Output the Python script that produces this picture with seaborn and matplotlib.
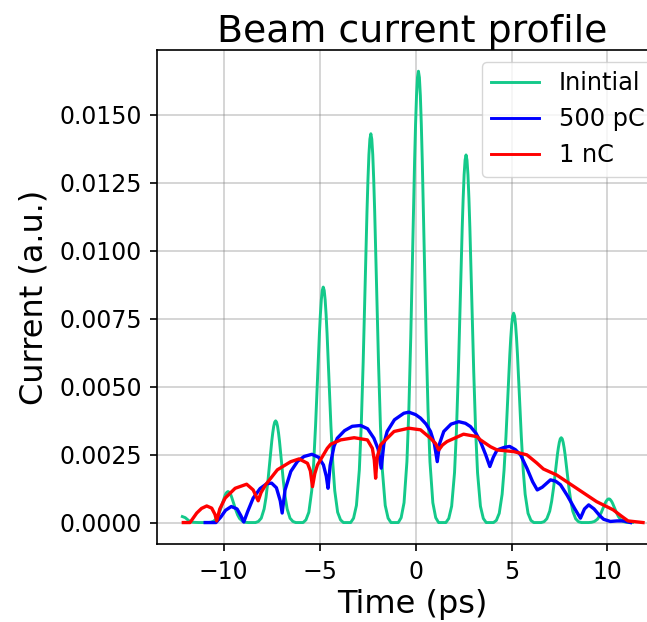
import numpy as np
import pandas as pd
import matplotlib
matplotlib.use("Agg")
import matplotlib.pyplot as plt
import seaborn as sns

# Initial profile (ps / a.u.)
green_t = [-12.15, -12.0, -11.8, -11.6, -11.3,
           -10.82, -10.67, -10.52, -10.37, -10.27, -10.17, -10.07, -9.97, -9.92, -9.87, -9.82, -9.77,
           -9.72, -9.67, -9.62, -9.57, -9.47, -9.37, -9.27, -9.17, -9.02, -8.87, -8.72,
           -8.34, -8.19, -8.04, -7.89, -7.79, -7.69, -7.59, -7.49, -7.44, -7.39, -7.34, -7.29,
           -7.24, -7.19, -7.14, -7.09, -6.99, -6.89, -6.79, -6.69, -6.54, -6.39, -6.24,
           -5.86, -5.71, -5.56, -5.41, -5.31, -5.21, -5.11, -5.01, -4.96, -4.91, -4.86, -4.81,
           -4.76, -4.71, -4.66, -4.61, -4.51, -4.41, -4.31, -4.21, -4.06, -3.91, -3.76,
           -3.38, -3.23, -3.08, -2.93, -2.83, -2.73, -2.63, -2.53, -2.48, -2.43, -2.38, -2.33,
           -2.28, -2.23, -2.18, -2.13, -2.03, -1.93, -1.83, -1.73, -1.58, -1.43, -1.28,
           -0.90, -0.75, -0.60, -0.45, -0.35, -0.25, -0.15, -0.05, 0.00, 0.05, 0.10, 0.15,
           0.20, 0.25, 0.30, 0.35, 0.45, 0.55, 0.65, 0.75, 0.90, 1.05, 1.20,
           1.58, 1.73, 1.88, 2.03, 2.13, 2.23, 2.33, 2.43, 2.48, 2.53, 2.58, 2.63,
           2.68, 2.73, 2.78, 2.83, 2.93, 3.03, 3.13, 3.23, 3.38, 3.53, 3.68,
           4.06, 4.21, 4.36, 4.51, 4.61, 4.71, 4.81, 4.91, 4.96, 5.01, 5.06, 5.11,
           5.16, 5.21, 5.26, 5.31, 5.41, 5.51, 5.61, 5.71, 5.86, 6.01, 6.16,
           6.54, 6.69, 6.84, 6.99, 7.09, 7.19, 7.29, 7.39, 7.44, 7.49, 7.54, 7.59,
           7.64, 7.69, 7.74, 7.79, 7.89, 7.99, 8.09, 8.19, 8.34, 8.49, 8.64,
           9.02, 9.17, 9.32, 9.47, 9.57, 9.67, 9.77, 9.87, 9.92, 9.97, 10.02, 10.07,
           10.12, 10.17, 10.22, 10.27, 10.37, 10.47, 10.57, 10.67, 10.82, 10.97, 11.12,
           11.3]
green_i = [0.00022, 0.00018, 0.00006, 0.00001, 0,
           0, 0.00001, 0.00005, 0.00015, 0.00028, 0.00047, 0.00069, 0.00091, 0.00101, 0.00108, 0.00112, 0.00114,
           0.00112, 0.00108, 0.00101, 0.00091, 0.00069, 0.00047, 0.00028, 0.00015, 0.00005, 0.00001, 0,
           0, 0.00004, 0.00016, 0.0005, 0.00093, 0.00154, 0.00227, 0.003, 0.0033, 0.00354, 0.00369, 0.00374,
           0.00369, 0.00354, 0.0033, 0.003, 0.00227, 0.00154, 0.00093, 0.0005, 0.00016, 0.00004, 0,
           0, 0.0001, 0.00038, 0.00117, 0.00216, 0.00356, 0.00526, 0.00694, 0.00764, 0.00819, 0.00854, 0.00866,
           0.00854, 0.00819, 0.00764, 0.00694, 0.00526, 0.00356, 0.00216, 0.00117, 0.00038, 0.0001, 0,
           0, 0.00016, 0.00063, 0.00193, 0.00356, 0.00588, 0.00868, 0.01145, 0.01261, 0.01353, 0.0141, 0.0143,
           0.0141, 0.01353, 0.01261, 0.01145, 0.00868, 0.00588, 0.00356, 0.00193, 0.00063, 0.00016, 0,
           0, 0.00018, 0.00073, 0.00224, 0.00413, 0.00682, 0.01008, 0.0133, 0.01464, 0.0157, 0.01637, 0.0166,
           0.01637, 0.0157, 0.01464, 0.0133, 0.01008, 0.00682, 0.00413, 0.00224, 0.00073, 0.00018, 0,
           0, 0.00015, 0.0006, 0.00183, 0.00337, 0.00556, 0.00821, 0.01083, 0.01192, 0.01279, 0.01333, 0.01352,
           0.01333, 0.01279, 0.01192, 0.01083, 0.00821, 0.00556, 0.00337, 0.00183, 0.0006, 0.00015, 0,
           0, 0.00008, 0.00034, 0.00104, 0.00192, 0.00316, 0.00467, 0.00617, 0.00679, 0.00728, 0.00759, 0.0077,
           0.00759, 0.00728, 0.00679, 0.00617, 0.00467, 0.00316, 0.00192, 0.00104, 0.00034, 0.00008, 0,
           0, 0.00003, 0.00014, 0.00042, 0.00078, 0.00128, 0.00189, 0.0025, 0.00275, 0.00295, 0.00308, 0.00312,
           0.00308, 0.00295, 0.00275, 0.0025, 0.00189, 0.00128, 0.00078, 0.00042, 0.00014, 0.00003, 0,
           0, 0.00001, 0.00004, 0.00012, 0.00022, 0.00036, 0.00053, 0.0007, 0.00077, 0.00082, 0.00086, 0.00087,
           0.00086, 0.00082, 0.00077, 0.0007, 0.00053, 0.00036, 0.00022, 0.00012, 0.00004, 0.00001, 0,
           0]

# 500 pC
blue_t = [-10.96, -10.4, -10.15, -9.9, -9.6, -9.3, -9.1, -8.95, -8.75, -8.46, -8.1, -7.75, -7.5, -7.25,
          -7.05, -6.95, -6.8, -6.5, -6.15, -5.81, -5.4, -5.05, -4.8, -4.65, -4.56, -4.45, -4.25, -4.08,
          -3.7, -3.3, -2.86, -2.5, -2.17, -1.95, -1.79, -1.65, -1.48, -1.1, -0.61, -0.35, 0.0, 0.26,
          0.55, 0.78, 0.98, 1.13, 1.25, 1.47, 1.85, 2.25, 2.6, 2.86, 3.15, 3.38, 3.65, 3.87, 4.05,
          4.25, 4.6, 4.9, 5.2, 5.47, 5.8, 6.1, 6.34, 6.6, 7.03, 7.3, 7.55, 7.9, 8.3, 8.59, 8.8,
          9.02, 9.3, 9.6, 9.8, 10.15, 10.5, 10.84, 11.2]
blue_i = [0, 0, 0.0002, 0.00045, 0.00059, 0.0005, 0.00025, 0.00002, 0.0004, 0.0009, 0.00125, 0.00143, 0.00145, 0.00128,
          0.0008, 0.00035, 0.0012, 0.00188, 0.00225, 0.00243, 0.00251, 0.0024, 0.00212, 0.0017, 0.00126, 0.0021, 0.0028, 0.0031,
          0.00338, 0.00354, 0.00357, 0.00345, 0.0031, 0.0027, 0.002, 0.0029, 0.00335, 0.00378, 0.00402, 0.00406, 0.00397, 0.00384,
          0.00362, 0.00335, 0.0029, 0.00224, 0.0029, 0.00335, 0.00362, 0.00371, 0.00365, 0.00353, 0.00328, 0.00298, 0.0025, 0.00206, 0.0024,
          0.00267, 0.00276, 0.0028, 0.00268, 0.00249, 0.002, 0.0015, 0.0012, 0.0013, 0.00157, 0.00152, 0.00139, 0.001, 0.0005, 0.00016, 0.0005,
          0.00065, 0.0005, 0.00025, 0.00012, 0.00004, 0.00006, 0.00006, 0]

# 1 nC
red_t = [-12.1, -11.75, -11.55, -11.4, -11.15, -10.88, -10.62, -10.45, -10.36, -10.2, -9.92, -9.4, -8.8, -8.46,
         -8.2, -8.05, -7.81, -7.2, -6.5, -6.07, -5.63, -5.48, -5.37, -5.25, -5.11, -4.6, -4.42, -3.9,
         -3.2, -2.51, -2.25, -2.15, -2.08, -2.0, -1.82, -1.12, -0.35, 0.26, 0.78, 1.05, 1.21, 1.4,
         1.64, 2.5, 3.2, 3.38, 3.9, 4.25, 5.11, 5.8, 6.3, 6.66, 7.35, 8.39, 9.43, 10.29, 10.7, 11.07, 11.85]
red_i = [0, 0, 0.0002, 0.00035, 0.00052, 0.00061, 0.00053, 0.0003, 0.00006, 0.0005, 0.0009, 0.00126, 0.00141, 0.0012,
         0.0008, 0.0011, 0.00139, 0.00194, 0.00224, 0.00234, 0.00218, 0.0019, 0.00132, 0.0018, 0.00212, 0.00273, 0.00288, 0.00304,
         0.00312, 0.00304, 0.00273, 0.0023, 0.00163, 0.0024, 0.00286, 0.00335, 0.00347, 0.00341, 0.0031, 0.0029, 0.00267, 0.00285,
         0.00298, 0.00325, 0.00316, 0.00304, 0.00279, 0.00267, 0.00261, 0.00249, 0.0022, 0.00197, 0.00175, 0.00126, 0.00077, 0.00047, 0.00025, 0.00006, 0]

labels = ["Inintial", "500 pC", "1 nC"]
colors = ["#14c98a", "blue", "red"]
widths = [2.1, 2.4, 2.4]


def main():
    plt.rcParams['font.family'] = ['DejaVu Sans']

    fig = plt.figure(figsize=(6.47, 6.22), dpi=100)
    ax = fig.add_axes([157.4 / 647, 77.7 / 622, (667 - 157.4) / 647, 494.3 / 622])

    series = [(green_t, green_i), (blue_t, blue_i), (red_t, red_i)]
    for (t, i), lab, col, lw in zip(series, labels, colors, widths):
        df = pd.DataFrame({"t": t, "i": i})
        sns.lineplot(data=df, x="t", y="i", ax=ax, color=col, label=lab,
                     linewidth=lw, estimator=None, sort=False)

    ax.set_xlim(-13.45, 13.1)
    ax.set_ylim(-0.0008, 0.01738)
    ax.set_xticks([-10, -5, 0, 5, 10])
    ax.set_yticks([0, 0.0025, 0.005, 0.0075, 0.01, 0.0125, 0.015])
    ax.set_yticklabels(["0.0000", "0.0025", "0.0050", "0.0075", "0.0100", "0.0125", "0.0150"])
    ax.tick_params(labelsize=17, length=5, width=1.2, color='black', pad=6)
    ax.grid(True, color='gray', alpha=0.35, linewidth=1.3)
    for s in ax.spines.values():
        s.set_color('black')
        s.set_linewidth(1.2)

    ax.set_xlabel("Time (ps)", fontsize=23, labelpad=4)
    ax.set_ylabel("Current (a.u.)", fontsize=23, labelpad=7)
    ax.set_title("Beam current profile", fontsize=27.3, pad=3)

    leg = ax.legend(loc='upper left', bbox_to_anchor=(481.7 / 647, 1 - 61.7 / 622),
                    bbox_transform=fig.transFigure, borderaxespad=0, fontsize=17.3,
                    frameon=True)
    for line in leg.get_lines():
        line.set_linewidth(2.1)

    fig.savefig("out.png", dpi=100)
    plt.close(fig)


if __name__ == "__main__":
    main()
